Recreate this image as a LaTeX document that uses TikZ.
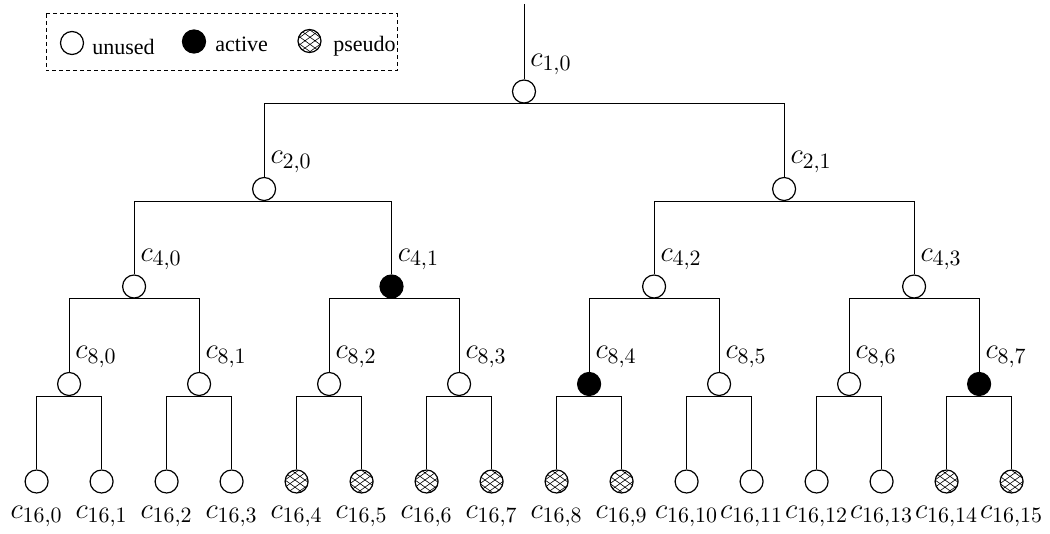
\documentclass[tikz,border=0pt]{standalone}
\usepackage{amsmath}
\usepackage[no-math]{fontspec}
\usetikzlibrary{patterns, positioning}
\newfontfamily\legendfont{Liberation Serif}

\pgfdeclarepatternformonly{pseudohatch}{\pgfpoint{-1pt}{-1pt}}{\pgfpoint{6pt}{5pt}}{\pgfpoint{5pt}{3.6pt}}{
  \pgfsetlinewidth{0.3pt}
  \pgfpathmoveto{\pgfpoint{0pt}{0pt}}\pgfpathlineto{\pgfpoint{5pt}{3.6pt}}
  \pgfpathmoveto{\pgfpoint{0pt}{3.6pt}}\pgfpathlineto{\pgfpoint{5pt}{0pt}}
  \pgfusepath{stroke}
}

\tikzset{
  cnode/.style={circle, draw, line width=0.6pt, minimum size=11.5pt, inner sep=0pt},
  unused/.style={cnode, fill=white},
  active/.style={cnode, fill=black},
  pseudo/.style={cnode, pattern=pseudohatch},
  clabel/.style={anchor=south west, inner xsep=3pt, inner ysep=2pt, font=\fontsize{15.5}{18}\selectfont},
  leaflabel/.style={label distance=2.5pt, font=\fontsize{15.5}{18}\selectfont},
  branch/.style={line width=0.5pt},
  legendtext/.style={anchor=base west, inner sep=0pt, font=\legendfont\fontsize{11}{13}\selectfont}
}

\begin{document}
\begin{tikzpicture}[x=0.5pt, y=-0.5pt]
  \useasboundingbox (0,0) rectangle (1050,534);

  % 凡例
  \draw[dash pattern=on 2pt off 1.5pt, line width=0.5pt] (46,14) rectangle (397,71);
  \node[unused] (lg-u) at (72,43) {};
  \node[legendtext] (lg-ut) at (92,55) {unused};
  \node[active] (lg-a) at (194,41.5) {};
  \node[legendtext] (lg-at) at (215,52) {active};
  \node[pseudo] (lg-p) at (309.5,41) {};
  \node[legendtext] (lg-pt) at (333,52) {pseudo};

  % 木の節点
  \coordinate (top) at (524,4);
  \node[unused, label={[clabel]north:$c_{1,0}$}] (c1-0) at (524,91.5) {};

  \node[unused, label={[clabel]north:$c_{2,0}$}] (c2-0) at (264.1,189) {};
  \node[unused, label={[clabel]north:$c_{2,1}$}] (c2-1) at (784.1,189) {};

  \node[unused, label={[clabel]north:$c_{4,0}$}] (c4-0) at (134.1,286.5) {};
  \node[active, label={[clabel]north:$c_{4,1}$}] (c4-1) at (391.5,286.5) {};
  \node[unused, label={[clabel]north:$c_{4,2}$}] (c4-2) at (654.1,286.5) {};
  \node[unused, label={[clabel]north:$c_{4,3}$}] (c4-3) at (914.1,286.5) {};

  \foreach \j/\kind in {0/unused,1/unused,2/unused,3/unused,4/active,5/unused,6/unused,7/active}
    \node[\kind, label={[clabel]north:$c_{8,\j}$}] (c8-\j) at ({69.1+130*\j},384) {};

  \foreach \i/\kind in {0/unused,1/unused,2/unused,3/unused,4/pseudo,5/pseudo,6/pseudo,7/pseudo,
                        8/pseudo,9/pseudo,10/unused,11/unused,12/unused,13/unused,14/pseudo,15/pseudo}
    \node[\kind, label={[leaflabel]below:$c_{16,\i}$}] (c16-\i) at ({36.6+65*\i},481.5) {};

  % 枝
  \draw[branch] (top) -- (c1-0.north);
  \foreach \p/\n/\q in {1/0/2, 2/1/4, 4/3/8, 8/7/16}
    \foreach \j in {0,...,\n} {
      \pgfmathtruncatemacro{\l}{2*\j}
      \pgfmathtruncatemacro{\r}{2*\j+1}
      \draw[branch] (c\p-\j.south) -| (c\q-\l.north);
      \draw[branch] (c\p-\j.south) -| (c\q-\r.north);
    }
\end{tikzpicture}
\end{document}
